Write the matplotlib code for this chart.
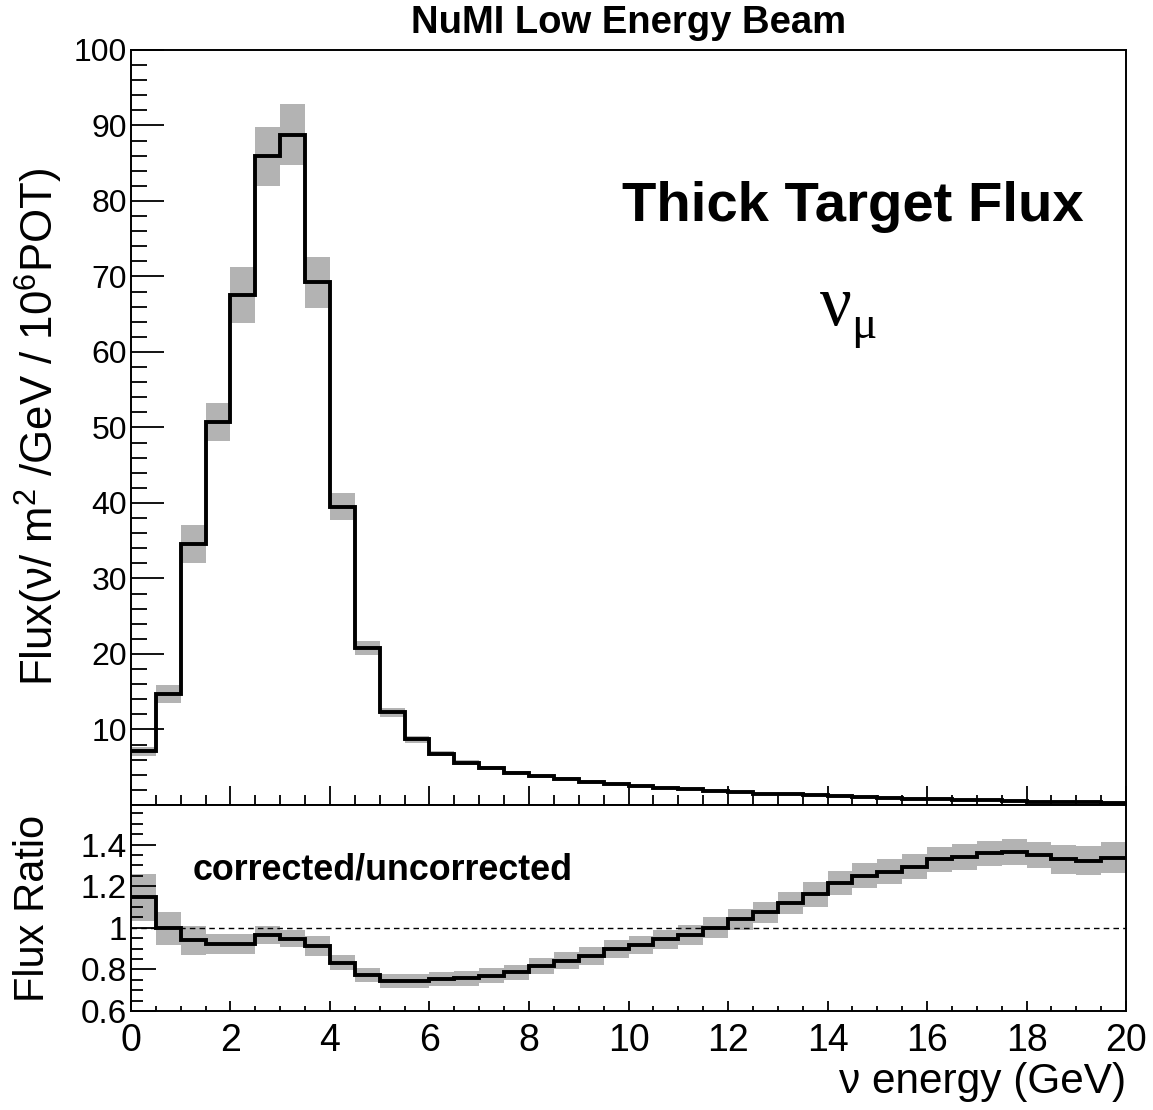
import numpy as np
import matplotlib.pyplot as plt
from matplotlib.ticker import MultipleLocator, FixedLocator, FuncFormatter

plt.rcParams['font.family'] = ['Liberation Sans', 'DejaVu Sans']
plt.rcParams['mathtext.fontset'] = 'custom'
plt.rcParams['mathtext.rm'] = 'Liberation Sans'

# 40 bins of 0.5 GeV from 0 to 20 GeV
bin_edges = np.arange(0, 20.5, 0.5)

# thick target flux (nu / m^2 / GeV / 10^6 POT) and its error
flux = [7.1, 14.7, 34.6, 50.7, 67.5, 85.9, 88.8, 69.2, 39.5, 20.8,
        12.3, 8.7, 6.8, 5.6, 4.9, 4.3, 3.8, 3.5, 3.1, 2.8,
        2.5, 2.3, 2.05, 1.9, 1.7, 1.5, 1.4, 1.3, 1.17, 1.03,
        0.95, 0.82, 0.73, 0.64, 0.6, 0.5, 0.45, 0.4, 0.35, 0.3]
flux_err = [0.6, 1.15, 2.5, 2.5, 3.7, 3.9, 4.1, 3.4, 1.8, 0.9,
            0.6, 0.45, 0.35, 0.3, 0.25, 0.2, 0.2, 0.2, 0.15, 0.15,
            0.15, 0.1, 0.1, 0.1, 0.1, 0.1, 0.1, 0.1, 0.1, 0.1,
            0.1, 0.1, 0.1, 0.1, 0.1, 0.1, 0.1, 0.1, 0.1, 0.1]

# corrected / uncorrected ratio and its error
ratio = [1.146, 0.997, 0.94, 0.923, 0.923, 0.965, 0.948, 0.912, 0.833, 0.772,
         0.745, 0.745, 0.753, 0.757, 0.769, 0.785, 0.817, 0.841, 0.865, 0.896,
         0.917, 0.944, 0.965, 1.0, 1.04, 1.074, 1.117, 1.16, 1.213, 1.25,
         1.269, 1.293, 1.328, 1.341, 1.357, 1.362, 1.349, 1.328, 1.322, 1.337]
ratio_err = [0.113, 0.078, 0.07, 0.047, 0.047, 0.043, 0.042, 0.047, 0.038, 0.034,
             0.034, 0.034, 0.034, 0.035, 0.036, 0.037, 0.04, 0.041, 0.042, 0.043,
             0.045, 0.046, 0.048, 0.05, 0.052, 0.052, 0.053, 0.058, 0.058, 0.059,
             0.06, 0.06, 0.061, 0.062, 0.062, 0.0625, 0.064, 0.068, 0.07, 0.075]

flux = np.array(flux)
flux_err = np.array(flux_err)
ratio = np.array(ratio)
ratio_err = np.array(ratio_err)
band_color = '#b3b3b3'

fig = plt.figure(figsize=(11.53, 11.10), dpi=100)
ax1 = fig.add_axes([0.1136, 0.2748, 0.8630, 0.6802])
ax2 = fig.add_axes([0.1136, 0.0892, 0.8630, 0.1856])

# top panel: flux
ax1.bar(bin_edges[:-1], 2 * flux_err, bottom=flux - flux_err, width=0.5,
        align='edge', color=band_color, linewidth=0)
ax1.stairs(flux, bin_edges, color='black', linewidth=2.8, baseline=None)
ax1.set_xlim(0, 20)
ax1.set_ylim(0, 100)
ax1.yaxis.set_major_locator(FixedLocator(np.arange(10, 101, 10)))
ax1.yaxis.set_minor_locator(MultipleLocator(2))
ax1.xaxis.set_major_locator(MultipleLocator(2))
ax1.xaxis.set_minor_locator(MultipleLocator(0.5))
ax1.tick_params(axis='x', which='major', direction='in', length=13.5, width=1.3, labelbottom=False)
ax1.tick_params(axis='x', which='minor', direction='in', length=7, width=1.3)
ax1.tick_params(axis='y', which='major', direction='in', length=23.5, width=1.3, labelsize=23, pad=3)
ax1.tick_params(axis='y', which='minor', direction='in', length=11.5, width=1.3)
ax1.set_ylabel('Flux(ν/ m$^{2}$ /GeV / 10$^{6}$POT)', fontsize=31.5)
ax1.yaxis.set_label_coords(-0.066, 0.5)
ax1.set_title('NuMI Low Energy Beam', fontsize=27.5, fontweight='bold', pad=12)
ax1.text(0.725, 0.7735, 'Thick Target Flux', transform=ax1.transAxes,
         fontsize=40.5, fontweight='bold', ha='center', va='baseline')
# nu_mu in an upright serif face
ax1.text(0.6925, 0.636, 'ν', transform=ax1.transAxes, family='Liberation Serif',
         fontsize=51, ha='left', va='baseline')
ax1.text(0.7235, 0.6185, 'μ', transform=ax1.transAxes, family='Liberation Serif',
         fontsize=34, ha='left', va='baseline')

# bottom panel: ratio
ax2.bar(bin_edges[:-1], 2 * ratio_err, bottom=ratio - ratio_err, width=0.5,
        align='edge', color=band_color, linewidth=0)
ax2.stairs(ratio, bin_edges, color='black', linewidth=2.8, baseline=None)
ax2.axhline(1.0, color='black', linestyle=(0, (4, 3)), linewidth=1.0)
ax2.set_xlim(0, 20)
ax2.set_ylim(0.6, 1.59)
ax2.yaxis.set_major_locator(FixedLocator([0.6, 0.8, 1.0, 1.2, 1.4]))
ax2.yaxis.set_minor_locator(FixedLocator(np.arange(0.6, 1.6, 0.05)))
ax2.yaxis.set_major_formatter(FuncFormatter(lambda v, p: '%g' % round(v, 2)))
ax2.xaxis.set_major_locator(MultipleLocator(2))
ax2.xaxis.set_minor_locator(MultipleLocator(0.5))
ax2.tick_params(axis='x', which='major', direction='in', length=7, width=1.3, labelsize=27, pad=8.5)
ax2.tick_params(axis='x', which='minor', direction='in', length=3.5, width=1.3)
ax2.tick_params(axis='y', which='major', direction='in', length=18, width=1.3, labelsize=24, pad=3)
ax2.tick_params(axis='y', which='minor', direction='in', length=8.5, width=1.3)
ax2.set_ylabel('Flux Ratio', fontsize=30)
ax2.yaxis.set_label_coords(-0.078, 0.5)
ax2.set_xlabel('ν energy (GeV)', fontsize=30.5, loc='right', labelpad=2)
ax2.text(0.062, 0.64, 'corrected/uncorrected', transform=ax2.transAxes,
         fontsize=25.8, fontweight='bold', ha='left', va='baseline')

for ax in (ax1, ax2):
    for s in ax.spines.values():
        s.set_linewidth(1.4)

fig.savefig('out.png', dpi=100)
